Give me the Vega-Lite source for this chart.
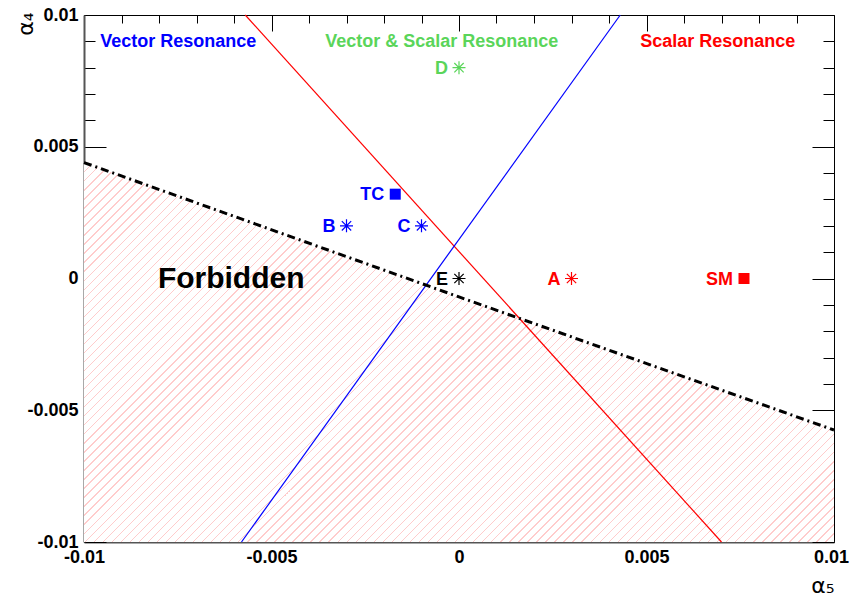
{
  "$schema": "https://vega.github.io/schema/vega-lite/v6.json",
  "width": 750,
  "height": 527,
  "autosize": {"type": "none"},
  "padding": {"left": 84, "top": 15, "right": 16, "bottom": 56},
  "background": "white",
  "config": {"view": {"stroke": "black", "strokeWidth": 1}, "font": "Liberation Sans"},
  "datasets": {
    "bound": [
      {"x": -0.01, "y": 0.0044},
      {"x": 0.0, "y": -0.0007},
      {"x": 0.01, "y": -0.00575}
    ],
    "lines": [
      {"grp": "scalar", "x": -0.0057, "y": 0.01},
      {"grp": "scalar", "x": 0.007, "y": -0.01},
      {"grp": "vector", "x": -0.0058, "y": -0.01},
      {"grp": "vector", "x": 0.0043, "y": 0.01}
    ],
    "points": [
      {"name": "D", "x": 0.0, "y": 0.008, "grp": "both", "marker": "star"},
      {"name": "TC", "x": -0.0017, "y": 0.0032, "grp": "vector", "marker": "square"},
      {"name": "B", "x": -0.003, "y": 0.002, "grp": "vector", "marker": "star"},
      {"name": "C", "x": -0.001, "y": 0.002, "grp": "vector", "marker": "star"},
      {"name": "E", "x": 0.0, "y": 0.0, "grp": "none", "marker": "star"},
      {"name": "A", "x": 0.003, "y": 0.0, "grp": "scalar", "marker": "star"},
      {"name": "SM", "x": 0.0076, "y": 0.0, "grp": "scalar", "marker": "square"}
    ],
    "regions": [
      {"text": "Vector Resonance", "x": -0.00957, "y": 0.00898, "grp": "vector"},
      {"text": "Vector & Scalar Resonance", "x": -0.00357, "y": 0.00898, "grp": "both"},
      {"text": "Scalar Resonance", "x": 0.00483, "y": 0.00898, "grp": "scalar"}
    ],
    "forbidden": [
      {"text": "Forbidden", "x": -0.00803, "y": 0.0}
    ]
  },
  "resolve": {"axis": {"x": "independent", "y": "independent"}},
  "layer": [
    {
      "data": {"name": "bound"},
      "mark": {"type": "area", "opacity": 1, "fill": {"gradient": "linear", "x1": 0, "y1": 0, "x2": 1.199, "y2": 0.6066, "stops": [
{"offset":0,"color":"#fff"},{"offset":0,"color":"#fcc"},{"offset":0.0012,"color":"#fcc"},{"offset":0.0012,"color":"#fff"},
{"offset":0.008,"color":"#fff"},{"offset":0.008,"color":"#fcc"},{"offset":0.0092,"color":"#fcc"},{"offset":0.0092,"color":"#fff"},
{"offset":0.016,"color":"#fff"},{"offset":0.016,"color":"#fcc"},{"offset":0.0172,"color":"#fcc"},{"offset":0.0172,"color":"#fff"},
{"offset":0.024,"color":"#fff"},{"offset":0.024,"color":"#fcc"},{"offset":0.0252,"color":"#fcc"},{"offset":0.0252,"color":"#fff"},
{"offset":0.032,"color":"#fff"},{"offset":0.032,"color":"#fcc"},{"offset":0.0332,"color":"#fcc"},{"offset":0.0332,"color":"#fff"},
{"offset":0.04,"color":"#fff"},{"offset":0.04,"color":"#fcc"},{"offset":0.0412,"color":"#fcc"},{"offset":0.0412,"color":"#fff"},
{"offset":0.048,"color":"#fff"},{"offset":0.048,"color":"#fcc"},{"offset":0.0492,"color":"#fcc"},{"offset":0.0492,"color":"#fff"},
{"offset":0.056,"color":"#fff"},{"offset":0.056,"color":"#fcc"},{"offset":0.0572,"color":"#fcc"},{"offset":0.0572,"color":"#fff"},
{"offset":0.064,"color":"#fff"},{"offset":0.064,"color":"#fcc"},{"offset":0.0652,"color":"#fcc"},{"offset":0.0652,"color":"#fff"},
{"offset":0.072,"color":"#fff"},{"offset":0.072,"color":"#fcc"},{"offset":0.0732,"color":"#fcc"},{"offset":0.0732,"color":"#fff"},
{"offset":0.08,"color":"#fff"},{"offset":0.08,"color":"#fcc"},{"offset":0.0812,"color":"#fcc"},{"offset":0.0812,"color":"#fff"},
{"offset":0.088,"color":"#fff"},{"offset":0.088,"color":"#fcc"},{"offset":0.0892,"color":"#fcc"},{"offset":0.0892,"color":"#fff"},
{"offset":0.096,"color":"#fff"},{"offset":0.096,"color":"#fcc"},{"offset":0.0972,"color":"#fcc"},{"offset":0.0972,"color":"#fff"},
{"offset":0.104,"color":"#fff"},{"offset":0.104,"color":"#fcc"},{"offset":0.1052,"color":"#fcc"},{"offset":0.1052,"color":"#fff"},
{"offset":0.112,"color":"#fff"},{"offset":0.112,"color":"#fcc"},{"offset":0.1132,"color":"#fcc"},{"offset":0.1132,"color":"#fff"},
{"offset":0.12,"color":"#fff"},{"offset":0.12,"color":"#fcc"},{"offset":0.1212,"color":"#fcc"},{"offset":0.1212,"color":"#fff"},
{"offset":0.128,"color":"#fff"},{"offset":0.128,"color":"#fcc"},{"offset":0.1292,"color":"#fcc"},{"offset":0.1292,"color":"#fff"},
{"offset":0.136,"color":"#fff"},{"offset":0.136,"color":"#fcc"},{"offset":0.1372,"color":"#fcc"},{"offset":0.1372,"color":"#fff"},
{"offset":0.144,"color":"#fff"},{"offset":0.144,"color":"#fcc"},{"offset":0.1452,"color":"#fcc"},{"offset":0.1452,"color":"#fff"},
{"offset":0.152,"color":"#fff"},{"offset":0.152,"color":"#fcc"},{"offset":0.1532,"color":"#fcc"},{"offset":0.1532,"color":"#fff"},
{"offset":0.16,"color":"#fff"},{"offset":0.16,"color":"#fcc"},{"offset":0.1612,"color":"#fcc"},{"offset":0.1612,"color":"#fff"},
{"offset":0.168,"color":"#fff"},{"offset":0.168,"color":"#fcc"},{"offset":0.1692,"color":"#fcc"},{"offset":0.1692,"color":"#fff"},
{"offset":0.176,"color":"#fff"},{"offset":0.176,"color":"#fcc"},{"offset":0.1772,"color":"#fcc"},{"offset":0.1772,"color":"#fff"},
{"offset":0.184,"color":"#fff"},{"offset":0.184,"color":"#fcc"},{"offset":0.1852,"color":"#fcc"},{"offset":0.1852,"color":"#fff"},
{"offset":0.192,"color":"#fff"},{"offset":0.192,"color":"#fcc"},{"offset":0.1932,"color":"#fcc"},{"offset":0.1932,"color":"#fff"},
{"offset":0.2,"color":"#fff"},{"offset":0.2,"color":"#fcc"},{"offset":0.2012,"color":"#fcc"},{"offset":0.2012,"color":"#fff"},
{"offset":0.208,"color":"#fff"},{"offset":0.208,"color":"#fcc"},{"offset":0.2092,"color":"#fcc"},{"offset":0.2092,"color":"#fff"},
{"offset":0.216,"color":"#fff"},{"offset":0.216,"color":"#fcc"},{"offset":0.2172,"color":"#fcc"},{"offset":0.2172,"color":"#fff"},
{"offset":0.224,"color":"#fff"},{"offset":0.224,"color":"#fcc"},{"offset":0.2252,"color":"#fcc"},{"offset":0.2252,"color":"#fff"},
{"offset":0.232,"color":"#fff"},{"offset":0.232,"color":"#fcc"},{"offset":0.2332,"color":"#fcc"},{"offset":0.2332,"color":"#fff"},
{"offset":0.24,"color":"#fff"},{"offset":0.24,"color":"#fcc"},{"offset":0.2412,"color":"#fcc"},{"offset":0.2412,"color":"#fff"},
{"offset":0.248,"color":"#fff"},{"offset":0.248,"color":"#fcc"},{"offset":0.2492,"color":"#fcc"},{"offset":0.2492,"color":"#fff"},
{"offset":0.256,"color":"#fff"},{"offset":0.256,"color":"#fcc"},{"offset":0.2572,"color":"#fcc"},{"offset":0.2572,"color":"#fff"},
{"offset":0.264,"color":"#fff"},{"offset":0.264,"color":"#fcc"},{"offset":0.2652,"color":"#fcc"},{"offset":0.2652,"color":"#fff"},
{"offset":0.272,"color":"#fff"},{"offset":0.272,"color":"#fcc"},{"offset":0.2732,"color":"#fcc"},{"offset":0.2732,"color":"#fff"},
{"offset":0.28,"color":"#fff"},{"offset":0.28,"color":"#fcc"},{"offset":0.2812,"color":"#fcc"},{"offset":0.2812,"color":"#fff"},
{"offset":0.288,"color":"#fff"},{"offset":0.288,"color":"#fcc"},{"offset":0.2892,"color":"#fcc"},{"offset":0.2892,"color":"#fff"},
{"offset":0.296,"color":"#fff"},{"offset":0.296,"color":"#fcc"},{"offset":0.2972,"color":"#fcc"},{"offset":0.2972,"color":"#fff"},
{"offset":0.304,"color":"#fff"},{"offset":0.304,"color":"#fcc"},{"offset":0.3052,"color":"#fcc"},{"offset":0.3052,"color":"#fff"},
{"offset":0.312,"color":"#fff"},{"offset":0.312,"color":"#fcc"},{"offset":0.3132,"color":"#fcc"},{"offset":0.3132,"color":"#fff"},
{"offset":0.32,"color":"#fff"},{"offset":0.32,"color":"#fcc"},{"offset":0.3212,"color":"#fcc"},{"offset":0.3212,"color":"#fff"},
{"offset":0.328,"color":"#fff"},{"offset":0.328,"color":"#fcc"},{"offset":0.3292,"color":"#fcc"},{"offset":0.3292,"color":"#fff"},
{"offset":0.336,"color":"#fff"},{"offset":0.336,"color":"#fcc"},{"offset":0.3372,"color":"#fcc"},{"offset":0.3372,"color":"#fff"},
{"offset":0.344,"color":"#fff"},{"offset":0.344,"color":"#fcc"},{"offset":0.3452,"color":"#fcc"},{"offset":0.3452,"color":"#fff"},
{"offset":0.352,"color":"#fff"},{"offset":0.352,"color":"#fcc"},{"offset":0.3532,"color":"#fcc"},{"offset":0.3532,"color":"#fff"},
{"offset":0.36,"color":"#fff"},{"offset":0.36,"color":"#fcc"},{"offset":0.3612,"color":"#fcc"},{"offset":0.3612,"color":"#fff"},
{"offset":0.368,"color":"#fff"},{"offset":0.368,"color":"#fcc"},{"offset":0.3692,"color":"#fcc"},{"offset":0.3692,"color":"#fff"},
{"offset":0.376,"color":"#fff"},{"offset":0.376,"color":"#fcc"},{"offset":0.3772,"color":"#fcc"},{"offset":0.3772,"color":"#fff"},
{"offset":0.384,"color":"#fff"},{"offset":0.384,"color":"#fcc"},{"offset":0.3852,"color":"#fcc"},{"offset":0.3852,"color":"#fff"},
{"offset":0.392,"color":"#fff"},{"offset":0.392,"color":"#fcc"},{"offset":0.3932,"color":"#fcc"},{"offset":0.3932,"color":"#fff"},
{"offset":0.4,"color":"#fff"},{"offset":0.4,"color":"#fcc"},{"offset":0.4012,"color":"#fcc"},{"offset":0.4012,"color":"#fff"},
{"offset":0.408,"color":"#fff"},{"offset":0.408,"color":"#fcc"},{"offset":0.4092,"color":"#fcc"},{"offset":0.4092,"color":"#fff"},
{"offset":0.416,"color":"#fff"},{"offset":0.416,"color":"#fcc"},{"offset":0.4172,"color":"#fcc"},{"offset":0.4172,"color":"#fff"},
{"offset":0.424,"color":"#fff"},{"offset":0.424,"color":"#fcc"},{"offset":0.4252,"color":"#fcc"},{"offset":0.4252,"color":"#fff"},
{"offset":0.432,"color":"#fff"},{"offset":0.432,"color":"#fcc"},{"offset":0.4332,"color":"#fcc"},{"offset":0.4332,"color":"#fff"},
{"offset":0.44,"color":"#fff"},{"offset":0.44,"color":"#fcc"},{"offset":0.4412,"color":"#fcc"},{"offset":0.4412,"color":"#fff"},
{"offset":0.448,"color":"#fff"},{"offset":0.448,"color":"#fcc"},{"offset":0.4492,"color":"#fcc"},{"offset":0.4492,"color":"#fff"},
{"offset":0.456,"color":"#fff"},{"offset":0.456,"color":"#fcc"},{"offset":0.4572,"color":"#fcc"},{"offset":0.4572,"color":"#fff"},
{"offset":0.464,"color":"#fff"},{"offset":0.464,"color":"#fcc"},{"offset":0.4652,"color":"#fcc"},{"offset":0.4652,"color":"#fff"},
{"offset":0.472,"color":"#fff"},{"offset":0.472,"color":"#fcc"},{"offset":0.4732,"color":"#fcc"},{"offset":0.4732,"color":"#fff"},
{"offset":0.48,"color":"#fff"},{"offset":0.48,"color":"#fcc"},{"offset":0.4812,"color":"#fcc"},{"offset":0.4812,"color":"#fff"},
{"offset":0.488,"color":"#fff"},{"offset":0.488,"color":"#fcc"},{"offset":0.4892,"color":"#fcc"},{"offset":0.4892,"color":"#fff"},
{"offset":0.496,"color":"#fff"},{"offset":0.496,"color":"#fcc"},{"offset":0.4972,"color":"#fcc"},{"offset":0.4972,"color":"#fff"},
{"offset":0.504,"color":"#fff"},{"offset":0.504,"color":"#fcc"},{"offset":0.5052,"color":"#fcc"},{"offset":0.5052,"color":"#fff"},
{"offset":0.512,"color":"#fff"},{"offset":0.512,"color":"#fcc"},{"offset":0.5132,"color":"#fcc"},{"offset":0.5132,"color":"#fff"},
{"offset":0.52,"color":"#fff"},{"offset":0.52,"color":"#fcc"},{"offset":0.5212,"color":"#fcc"},{"offset":0.5212,"color":"#fff"},
{"offset":0.528,"color":"#fff"},{"offset":0.528,"color":"#fcc"},{"offset":0.5292,"color":"#fcc"},{"offset":0.5292,"color":"#fff"},
{"offset":0.536,"color":"#fff"},{"offset":0.536,"color":"#fcc"},{"offset":0.5372,"color":"#fcc"},{"offset":0.5372,"color":"#fff"},
{"offset":0.544,"color":"#fff"},{"offset":0.544,"color":"#fcc"},{"offset":0.5452,"color":"#fcc"},{"offset":0.5452,"color":"#fff"},
{"offset":0.552,"color":"#fff"},{"offset":0.552,"color":"#fcc"},{"offset":0.5532,"color":"#fcc"},{"offset":0.5532,"color":"#fff"},
{"offset":0.56,"color":"#fff"},{"offset":0.56,"color":"#fcc"},{"offset":0.5612,"color":"#fcc"},{"offset":0.5612,"color":"#fff"},
{"offset":0.568,"color":"#fff"},{"offset":0.568,"color":"#fcc"},{"offset":0.5692,"color":"#fcc"},{"offset":0.5692,"color":"#fff"},
{"offset":0.576,"color":"#fff"},{"offset":0.576,"color":"#fcc"},{"offset":0.5772,"color":"#fcc"},{"offset":0.5772,"color":"#fff"},
{"offset":0.584,"color":"#fff"},{"offset":0.584,"color":"#fcc"},{"offset":0.5852,"color":"#fcc"},{"offset":0.5852,"color":"#fff"},
{"offset":0.592,"color":"#fff"},{"offset":0.592,"color":"#fcc"},{"offset":0.5932,"color":"#fcc"},{"offset":0.5932,"color":"#fff"},
{"offset":0.6,"color":"#fff"},{"offset":0.6,"color":"#fcc"},{"offset":0.6012,"color":"#fcc"},{"offset":0.6012,"color":"#fff"},
{"offset":0.608,"color":"#fff"},{"offset":0.608,"color":"#fcc"},{"offset":0.6092,"color":"#fcc"},{"offset":0.6092,"color":"#fff"},
{"offset":0.616,"color":"#fff"},{"offset":0.616,"color":"#fcc"},{"offset":0.6172,"color":"#fcc"},{"offset":0.6172,"color":"#fff"},
{"offset":0.624,"color":"#fff"},{"offset":0.624,"color":"#fcc"},{"offset":0.6252,"color":"#fcc"},{"offset":0.6252,"color":"#fff"},
{"offset":0.632,"color":"#fff"},{"offset":0.632,"color":"#fcc"},{"offset":0.6332,"color":"#fcc"},{"offset":0.6332,"color":"#fff"},
{"offset":0.64,"color":"#fff"},{"offset":0.64,"color":"#fcc"},{"offset":0.6412,"color":"#fcc"},{"offset":0.6412,"color":"#fff"},
{"offset":0.648,"color":"#fff"},{"offset":0.648,"color":"#fcc"},{"offset":0.6492,"color":"#fcc"},{"offset":0.6492,"color":"#fff"},
{"offset":0.656,"color":"#fff"},{"offset":0.656,"color":"#fcc"},{"offset":0.6572,"color":"#fcc"},{"offset":0.6572,"color":"#fff"},
{"offset":0.664,"color":"#fff"},{"offset":0.664,"color":"#fcc"},{"offset":0.6652,"color":"#fcc"},{"offset":0.6652,"color":"#fff"},
{"offset":0.672,"color":"#fff"},{"offset":0.672,"color":"#fcc"},{"offset":0.6732,"color":"#fcc"},{"offset":0.6732,"color":"#fff"},
{"offset":0.68,"color":"#fff"},{"offset":0.68,"color":"#fcc"},{"offset":0.6812,"color":"#fcc"},{"offset":0.6812,"color":"#fff"},
{"offset":0.688,"color":"#fff"},{"offset":0.688,"color":"#fcc"},{"offset":0.6892,"color":"#fcc"},{"offset":0.6892,"color":"#fff"},
{"offset":0.696,"color":"#fff"},{"offset":0.696,"color":"#fcc"},{"offset":0.6972,"color":"#fcc"},{"offset":0.6972,"color":"#fff"},
{"offset":0.704,"color":"#fff"},{"offset":0.704,"color":"#fcc"},{"offset":0.7052,"color":"#fcc"},{"offset":0.7052,"color":"#fff"},
{"offset":0.712,"color":"#fff"},{"offset":0.712,"color":"#fcc"},{"offset":0.7132,"color":"#fcc"},{"offset":0.7132,"color":"#fff"},
{"offset":0.72,"color":"#fff"},{"offset":0.72,"color":"#fcc"},{"offset":0.7212,"color":"#fcc"},{"offset":0.7212,"color":"#fff"},
{"offset":0.728,"color":"#fff"},{"offset":0.728,"color":"#fcc"},{"offset":0.7292,"color":"#fcc"},{"offset":0.7292,"color":"#fff"},
{"offset":0.736,"color":"#fff"},{"offset":0.736,"color":"#fcc"},{"offset":0.7372,"color":"#fcc"},{"offset":0.7372,"color":"#fff"},
{"offset":0.744,"color":"#fff"},{"offset":0.744,"color":"#fcc"},{"offset":0.7452,"color":"#fcc"},{"offset":0.7452,"color":"#fff"},
{"offset":0.752,"color":"#fff"},{"offset":0.752,"color":"#fcc"},{"offset":0.7532,"color":"#fcc"},{"offset":0.7532,"color":"#fff"},
{"offset":0.76,"color":"#fff"},{"offset":0.76,"color":"#fcc"},{"offset":0.7612,"color":"#fcc"},{"offset":0.7612,"color":"#fff"},
{"offset":0.768,"color":"#fff"},{"offset":0.768,"color":"#fcc"},{"offset":0.7692,"color":"#fcc"},{"offset":0.7692,"color":"#fff"},
{"offset":0.776,"color":"#fff"},{"offset":0.776,"color":"#fcc"},{"offset":0.7772,"color":"#fcc"},{"offset":0.7772,"color":"#fff"},
{"offset":0.784,"color":"#fff"},{"offset":0.784,"color":"#fcc"},{"offset":0.7852,"color":"#fcc"},{"offset":0.7852,"color":"#fff"},
{"offset":0.792,"color":"#fff"},{"offset":0.792,"color":"#fcc"},{"offset":0.7932,"color":"#fcc"},{"offset":0.7932,"color":"#fff"},
{"offset":0.8,"color":"#fff"},{"offset":0.8,"color":"#fcc"},{"offset":0.8012,"color":"#fcc"},{"offset":0.8012,"color":"#fff"},
{"offset":0.808,"color":"#fff"},{"offset":0.808,"color":"#fcc"},{"offset":0.8092,"color":"#fcc"},{"offset":0.8092,"color":"#fff"},
{"offset":0.816,"color":"#fff"},{"offset":0.816,"color":"#fcc"},{"offset":0.8172,"color":"#fcc"},{"offset":0.8172,"color":"#fff"},
{"offset":0.824,"color":"#fff"},{"offset":0.824,"color":"#fcc"},{"offset":0.8252,"color":"#fcc"},{"offset":0.8252,"color":"#fff"},
{"offset":0.832,"color":"#fff"},{"offset":0.832,"color":"#fcc"},{"offset":0.8332,"color":"#fcc"},{"offset":0.8332,"color":"#fff"},
{"offset":0.84,"color":"#fff"},{"offset":0.84,"color":"#fcc"},{"offset":0.8412,"color":"#fcc"},{"offset":0.8412,"color":"#fff"},
{"offset":0.848,"color":"#fff"},{"offset":0.848,"color":"#fcc"},{"offset":0.8492,"color":"#fcc"},{"offset":0.8492,"color":"#fff"},
{"offset":0.856,"color":"#fff"},{"offset":0.856,"color":"#fcc"},{"offset":0.8572,"color":"#fcc"},{"offset":0.8572,"color":"#fff"},
{"offset":0.864,"color":"#fff"},{"offset":0.864,"color":"#fcc"},{"offset":0.8652,"color":"#fcc"},{"offset":0.8652,"color":"#fff"},
{"offset":0.872,"color":"#fff"},{"offset":0.872,"color":"#fcc"},{"offset":0.8732,"color":"#fcc"},{"offset":0.8732,"color":"#fff"},
{"offset":0.88,"color":"#fff"},{"offset":0.88,"color":"#fcc"},{"offset":0.8812,"color":"#fcc"},{"offset":0.8812,"color":"#fff"},
{"offset":0.888,"color":"#fff"},{"offset":0.888,"color":"#fcc"},{"offset":0.8892,"color":"#fcc"},{"offset":0.8892,"color":"#fff"},
{"offset":0.896,"color":"#fff"},{"offset":0.896,"color":"#fcc"},{"offset":0.8972,"color":"#fcc"},{"offset":0.8972,"color":"#fff"},
{"offset":0.904,"color":"#fff"},{"offset":0.904,"color":"#fcc"},{"offset":0.9052,"color":"#fcc"},{"offset":0.9052,"color":"#fff"},
{"offset":0.912,"color":"#fff"},{"offset":0.912,"color":"#fcc"},{"offset":0.9132,"color":"#fcc"},{"offset":0.9132,"color":"#fff"},
{"offset":0.92,"color":"#fff"},{"offset":0.92,"color":"#fcc"},{"offset":0.9212,"color":"#fcc"},{"offset":0.9212,"color":"#fff"},
{"offset":0.928,"color":"#fff"},{"offset":0.928,"color":"#fcc"},{"offset":0.9292,"color":"#fcc"},{"offset":0.9292,"color":"#fff"},
{"offset":0.936,"color":"#fff"},{"offset":0.936,"color":"#fcc"},{"offset":0.9372,"color":"#fcc"},{"offset":0.9372,"color":"#fff"},
{"offset":0.944,"color":"#fff"},{"offset":0.944,"color":"#fcc"},{"offset":0.9452,"color":"#fcc"},{"offset":0.9452,"color":"#fff"},
{"offset":0.952,"color":"#fff"},{"offset":0.952,"color":"#fcc"},{"offset":0.9532,"color":"#fcc"},{"offset":0.9532,"color":"#fff"},
{"offset":0.96,"color":"#fff"},{"offset":0.96,"color":"#fcc"},{"offset":0.9612,"color":"#fcc"},{"offset":0.9612,"color":"#fff"},
{"offset":0.968,"color":"#fff"},{"offset":0.968,"color":"#fcc"},{"offset":0.9692,"color":"#fcc"},{"offset":0.9692,"color":"#fff"},
{"offset":0.976,"color":"#fff"},{"offset":0.976,"color":"#fcc"},{"offset":0.9772,"color":"#fcc"},{"offset":0.9772,"color":"#fff"},
{"offset":0.984,"color":"#fff"},{"offset":0.984,"color":"#fcc"},{"offset":0.9852,"color":"#fcc"},{"offset":0.9852,"color":"#fff"},
{"offset":0.992,"color":"#fff"},{"offset":0.992,"color":"#fcc"},{"offset":0.9932,"color":"#fcc"},{"offset":0.9932,"color":"#fff"},
{"offset":1,"color":"#fff"}
      ]}},
      "encoding": {
        "x": {
          "field": "x", "type": "quantitative",
          "scale": {"domain": [-0.01, 0.01], "nice": false, "zero": false},
          "axis": {
            "orient": "bottom",
            "values": [-0.01, -0.009, -0.008, -0.007, -0.006, -0.005, -0.004, -0.003, -0.002, -0.001, 0, 0.001, 0.002, 0.003, 0.004, 0.005, 0.006, 0.007, 0.008, 0.009, 0.01],
            "tickSize": {"condition": {"test": "abs(round(datum.value*1000))%5==0", "value": -16}, "value": -8},
            "tickColor": "black",
            "tickWidth": 1,
            "domainColor": "#555555",
            "domainWidth": 2,
            "grid": false,
            "labelExpr": "abs(round(datum.value*1000))%5==0 ? ''+round(datum.value*1000)/1000 : ''",
            "labelFont": "Liberation Sans",
            "labelFontWeight": "bold",
            "labelFontSize": 18,
            "labelColor": "black",
            "labelPadding": 22,
            "labelOffset": {"condition": {"test": "datum.value > 0.0095", "value": -3}, "value": 0},
            "labelFlush": false,
            "labelOverlap": false,
            "title": "α₅",
            "titleFont": "DejaVu Sans",
            "titleFontSize": 22,
            "titleFontWeight": "normal",
            "titleColor": "black",
            "titleAnchor": "end",
            "titleAlign": "right",
            "titleBaseline": "alphabetic",
            "titleX": 750,
            "titleY": 50
          }
        },
        "y": {
          "field": "y", "type": "quantitative",
          "scale": {"domain": [-0.01, 0.01], "nice": false, "zero": false},
          "axis": {
            "orient": "left",
            "values": [-0.01, -0.009, -0.008, -0.007, -0.006, -0.005, -0.004, -0.003, -0.002, -0.001, 0, 0.001, 0.002, 0.003, 0.004, 0.005, 0.006, 0.007, 0.008, 0.009, 0.01],
            "tickSize": {"condition": {"test": "abs(round(datum.value*1000))%5==0", "value": -22}, "value": -11},
            "tickColor": "black",
            "tickWidth": 1,
            "domainColor": "#555555",
            "domainWidth": 2,
            "grid": false,
            "labelExpr": "abs(round(datum.value*1000))%5==0 ? ''+round(datum.value*1000)/1000 : ''",
            "labelFont": "Liberation Sans",
            "labelFontWeight": "bold",
            "labelFontSize": 18,
            "labelColor": "black",
            "labelPadding": 28,
            "labelFlush": false,
            "labelOverlap": false,
            "title": "α₄",
            "titleFont": "DejaVu Sans",
            "titleFontSize": 22,
            "titleFontWeight": "normal",
            "titleColor": "black",
            "titleAngle": -90,
            "titleAnchor": "end",
            "titleAlign": "right",
            "titleBaseline": "alphabetic",
            "titleX": -52,
            "titleY": -3
          }
        },
        "y2": {"datum": -0.01}
      }
    },
    {
      "data": {"name": "lines"},
      "mark": {"type": "line", "strokeWidth": 1.2},
      "encoding": {
        "x": {
          "field": "x", "type": "quantitative",
          "scale": {"domain": [-0.01, 0.01], "nice": false, "zero": false},
          "axis": {
            "orient": "top",
            "values": [-0.01, -0.009, -0.008, -0.007, -0.006, -0.005, -0.004, -0.003, -0.002, -0.001, 0, 0.001, 0.002, 0.003, 0.004, 0.005, 0.006, 0.007, 0.008, 0.009, 0.01],
            "tickSize": {"condition": {"test": "abs(round(datum.value*1000))%5==0", "value": -16}, "value": -8},
            "tickColor": "black",
            "domain": false,
            "grid": false,
            "labels": false,
            "title": null
          }
        },
        "y": {
          "field": "y", "type": "quantitative",
          "scale": {"domain": [-0.01, 0.01], "nice": false, "zero": false},
          "axis": {
            "orient": "right",
            "values": [-0.01, -0.009, -0.008, -0.007, -0.006, -0.005, -0.004, -0.003, -0.002, -0.001, 0, 0.001, 0.002, 0.003, 0.004, 0.005, 0.006, 0.007, 0.008, 0.009, 0.01],
            "tickSize": {"condition": {"test": "abs(round(datum.value*1000))%5==0", "value": -22}, "value": -11},
            "tickColor": "black",
            "domain": false,
            "grid": false,
            "labels": false,
            "title": null
          }
        },
        "detail": {"field": "grp"},
        "color": {"field": "grp", "type": "nominal", "scale": {"domain": ["vector", "both", "scalar", "none"], "range": ["#0000ff", "#5ad55a", "#ff0000", "#000000"]}, "legend": null}
      }
    },
    {
      "data": {"name": "bound"},
      "mark": {"type": "line", "color": "black", "strokeWidth": 3, "strokeDash": [8, 4, 2, 4]},
      "encoding": {
        "x": {"field": "x", "type": "quantitative", "axis": null},
        "y": {"field": "y", "type": "quantitative", "axis": null}
      }
    },
    {
      "data": {"name": "points"},
      "transform": [{"filter": "datum.marker == 'star'"}],
      "mark": {"type": "point", "filled": false, "strokeWidth": 1.2, "opacity": 1, "shape": "M-1,0L1,0M0,-1L0,1M-0.72,-0.72L0.72,0.72M-0.72,0.72L0.72,-0.72", "size": 169},
      "encoding": {
        "x": {"field": "x", "type": "quantitative", "axis": null},
        "y": {"field": "y", "type": "quantitative", "axis": null},
        "color": {"field": "grp", "type": "nominal", "scale": {"domain": ["vector", "both", "scalar", "none"], "range": ["#0000ff", "#5ad55a", "#ff0000", "#000000"]}, "legend": null}
      }
    },
    {
      "data": {"name": "points"},
      "transform": [{"filter": "datum.marker == 'square'"}],
      "mark": {"type": "square", "filled": true, "opacity": 1, "size": 121},
      "encoding": {
        "x": {"field": "x", "type": "quantitative", "axis": null},
        "y": {"field": "y", "type": "quantitative", "axis": null},
        "color": {"field": "grp", "type": "nominal", "scale": {"domain": ["vector", "both", "scalar", "none"], "range": ["#0000ff", "#5ad55a", "#ff0000", "#000000"]}, "legend": null}
      }
    },
    {
      "data": {"name": "points"},
      "mark": {"type": "text", "align": "right", "baseline": "middle", "dx": -11, "dy": 1, "font": "Liberation Sans", "fontWeight": "bold", "fontSize": 18},
      "encoding": {
        "x": {"field": "x", "type": "quantitative", "axis": null},
        "y": {"field": "y", "type": "quantitative", "axis": null},
        "text": {"field": "name"},
        "color": {"field": "grp", "type": "nominal", "scale": {"domain": ["vector", "both", "scalar", "none"], "range": ["#0000ff", "#5ad55a", "#ff0000", "#000000"]}, "legend": null}
      }
    },
    {
      "data": {"name": "regions"},
      "mark": {"type": "text", "align": "left", "baseline": "middle", "font": "Liberation Sans", "fontWeight": "bold", "fontSize": 18},
      "encoding": {
        "x": {"field": "x", "type": "quantitative", "axis": null},
        "y": {"field": "y", "type": "quantitative", "axis": null},
        "text": {"field": "text"},
        "color": {"field": "grp", "type": "nominal", "scale": {"domain": ["vector", "both", "scalar", "none"], "range": ["#0000ff", "#5ad55a", "#ff0000", "#000000"]}, "legend": null}
      }
    },
    {
      "data": {"name": "forbidden"},
      "mark": {"type": "text", "align": "left", "baseline": "middle", "font": "Liberation Sans", "fontWeight": "bold", "fontSize": 30, "color": "black"},
      "encoding": {
        "x": {"field": "x", "type": "quantitative", "axis": null},
        "y": {"field": "y", "type": "quantitative", "axis": null},
        "text": {"field": "text"}
      }
    }
  ]
}
